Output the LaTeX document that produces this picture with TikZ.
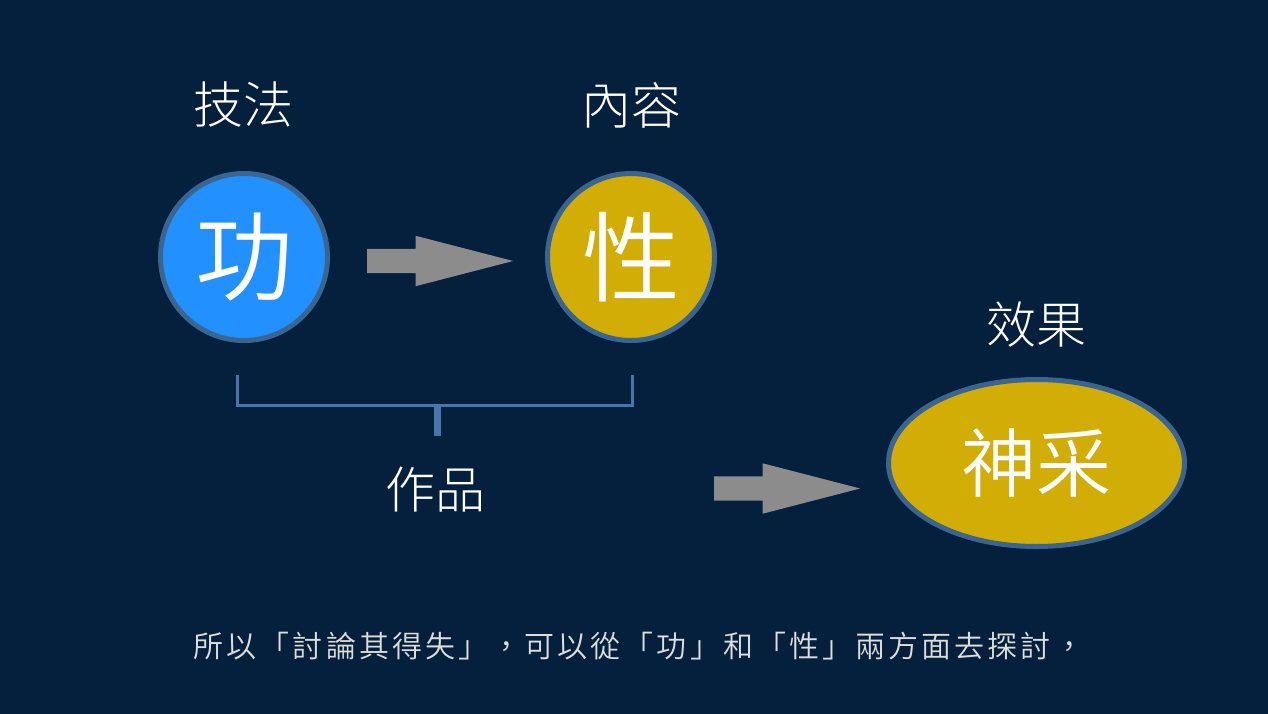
\documentclass[tikz,border=0pt]{standalone}
\usepackage{fontspec}
\usetikzlibrary{shapes.geometric,shapes.arrows}
\newfontfamily\cjk{Noto Sans CJK TC}[UprightFont={* DemiLight},Script=CJK,Language=Chinese Traditional]
\newfontfamily\cjklight{Noto Sans CJK TC}[UprightFont={* Light},Script=CJK,Language=Chinese Traditional]
\newfontfamily\capfont{Noto Sans CJK TC}[UprightFont={* DemiLight},Script=CJK,Language=Chinese Traditional,LetterSpace=10.3]
\definecolor{bgnavy}{HTML}{05203D}
\definecolor{ringblue}{HTML}{3A6590}
\definecolor{discblue}{HTML}{2291FF}
\definecolor{discgold}{HTML}{D2AD06}
\definecolor{brk}{HTML}{4A74AE}
\definecolor{arrowgray}{HTML}{8C8C8C}
\definecolor{capt}{HTML}{DDDDDA}
\tikzset{
  x=1pt,y=-1pt,
  txt/.style={text=white,inner sep=0pt,font=\cjk},
  head/.style={txt,font=\cjklight\fontsize{50}{50}\selectfont},
  disc/.style={circle,draw=ringblue,line width=5pt,minimum size=167pt,inner sep=0pt,text=white,font=\cjk\fontsize{98}{98}\selectfont},
  oval/.style={ellipse,draw=ringblue,fill=discgold,line width=5pt,minimum width=296pt,minimum height=167pt,inner sep=0pt,text=white,font=\cjk\fontsize{75}{75}\selectfont},
  blockarrow/.style={single arrow,fill=arrowgray,draw=none,inner sep=0pt,minimum height=146pt,single arrow head extend=13pt,single arrow tip angle=29,anchor=center},
  brline/.style={draw=brk,line width=3pt},
  brstem/.style={draw=brk,line width=7pt},
}
\begin{document}
\begin{tikzpicture}
\useasboundingbox[fill=bgnavy] (0,0) rectangle (1268,714);
\node[head] (ji) at (243,105) {技法};
\node[head] (nei) at (631,105) {內容};
\node[head] (xiao) at (1036,325) {效果};
\node[head] (zuo) at (435,490) {作品};
\node[disc,fill=discblue] (gong) at (244,257) {功};
\node[disc,fill=discgold] (xing) at (631,257) {性};
\node[oval] (shen) at (1036.5,463) {神采};
\node[blockarrow] (a1) at (416.5,261) {\rule{0pt}{24pt}};
\node[blockarrow] (a2) at (763.5,488.5) {\rule{0pt}{24pt}};
\coordinate (bl) at (237,375);
\coordinate (br) at (632,375);
\coordinate (bm) at (437.5,405);
\coordinate (bs) at (437.5,436);
\draw[brline,line join=miter] (bl) |- (bm) -| (br);
\draw[brstem] (bm) -- (bs);
\node[txt,anchor=west,text=capt,font=\capfont\fontsize{30}{30}\selectfont] (cap) at (193.5,646) {所以「討論其得失」，可以從「功」和「性」兩方面去探討，};
\end{tikzpicture}
\end{document}
